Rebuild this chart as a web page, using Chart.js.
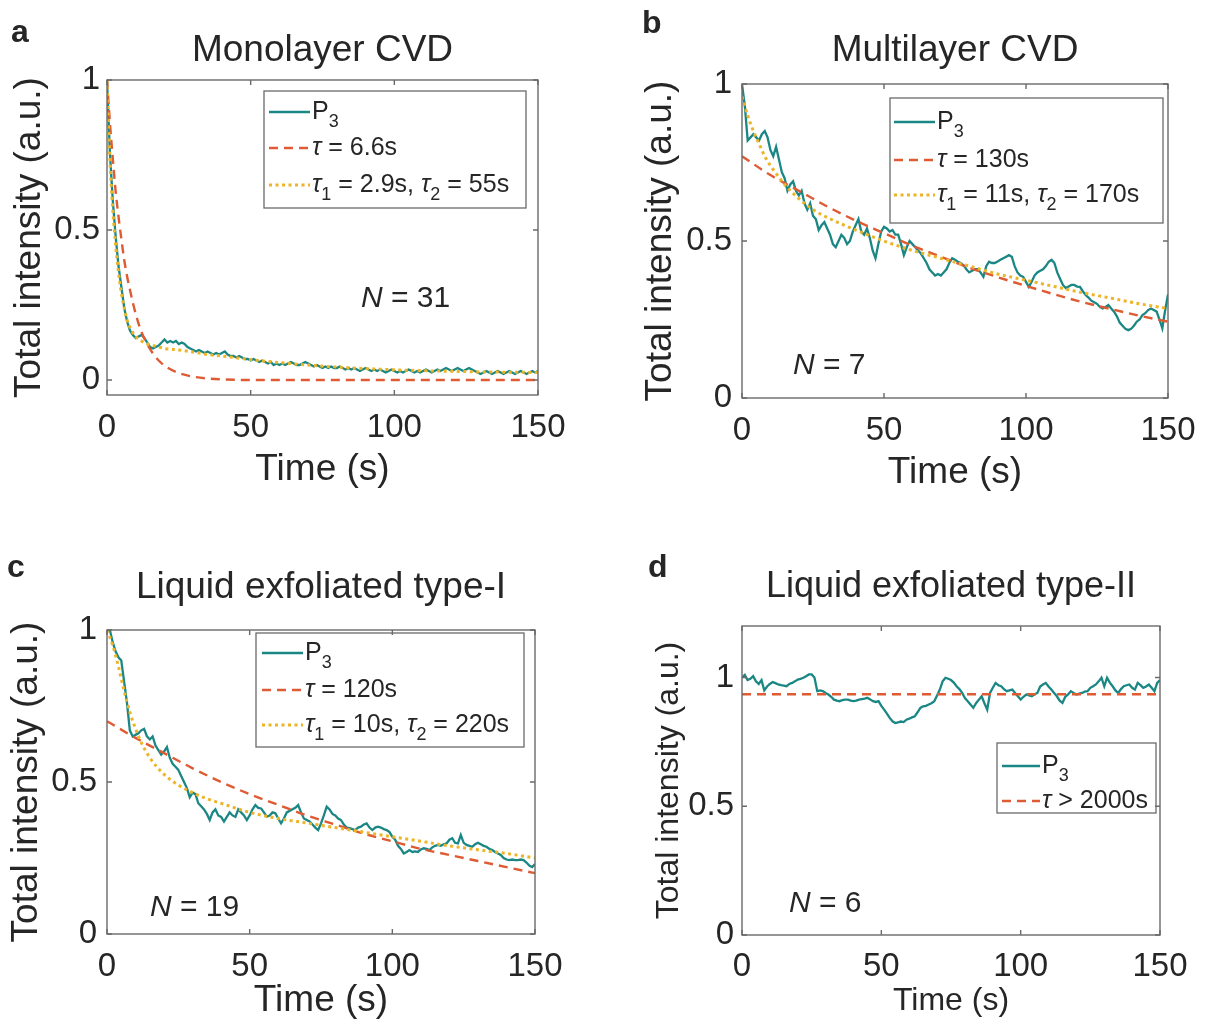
<!DOCTYPE html>
<html>
<head>
<meta charset="utf-8">
<title>Total intensity vs time</title>
<script src="https://cdn.jsdelivr.net/npm/chart.js@4.4.1/dist/chart.umd.min.js"></script>
<style>
  body { margin: 0; background: #fff; }
  #page { position: relative; width: 1209px; height: 1027px; overflow: hidden; background: #fff; }
  #page canvas { position: absolute; }
</style>
</head>
<body>
<div id="page">
  <canvas id="panel-a" width="603" height="512" style="left:0px;top:0px"></canvas>
  <canvas id="panel-b" width="606" height="512" style="left:603px;top:0px"></canvas>
  <canvas id="panel-c" width="603" height="515" style="left:0px;top:512px"></canvas>
  <canvas id="panel-d" width="606" height="515" style="left:603px;top:512px"></canvas>
</div>
<script>
// ---- data ----
const xTickValues = [0, 50, 100, 150];
const yTickValues = [0, 0.5, 1];

const traceTime = [
  0,1,2,3,4,5,6,7,8,9,10,11,12,13,14,15,16,17,18,19,20,21,22,23,24,25,26,27,28,29,
  30,31,32,33,34,35,36,37,38,39,40,41,42,43,44,45,46,47,48,49,50,51,52,53,54,55,56,57,58,59,
  60,61,62,63,64,65,66,67,68,69,70,71,72,73,74,75,76,77,78,79,80,81,82,83,84,85,86,87,88,89,
  90,91,92,93,94,95,96,97,98,99,100,101,102,103,104,105,106,107,108,109,110,111,112,113,114,115,116,117,118,119,
  120,121,122,123,124,125,126,127,128,129,130,131,132,133,134,135,136,137,138,139,140,141,142,143,144,145,146,147,148,149,150
];

// a - Monolayer CVD
const monoTrace = [
  1.00,0.76,0.60,0.48,0.38,0.31,0.24,0.195,0.165,0.15,
  0.14,0.145,0.15,0.14,0.125,0.11,0.105,0.11,0.115,0.125,
  0.135,0.125,0.13,0.125,0.13,0.12,0.125,0.12,0.11,0.105,
  0.10,0.095,0.10,0.095,0.09,0.095,0.09,0.085,0.09,0.085,
  0.09,0.095,0.085,0.08,0.08,0.075,0.08,0.075,0.07,0.07,
  0.065,0.07,0.065,0.06,0.065,0.06,0.055,0.06,0.05,0.055,
  0.05,0.055,0.05,0.055,0.06,0.055,0.05,0.05,0.055,0.06,
  0.055,0.05,0.045,0.05,0.045,0.04,0.045,0.04,0.045,0.04,
  0.04,0.045,0.04,0.035,0.04,0.035,0.04,0.035,0.03,0.035,
  0.04,0.035,0.03,0.035,0.03,0.035,0.03,0.025,0.03,0.035,
  0.03,0.025,0.03,0.025,0.03,0.035,0.03,0.025,0.03,0.025,
  0.03,0.035,0.03,0.025,0.03,0.035,0.03,0.035,0.04,0.035,
  0.03,0.035,0.04,0.035,0.03,0.035,0.04,0.035,0.03,0.025,
  0.02,0.025,0.03,0.025,0.02,0.025,0.03,0.025,0.02,0.025,
  0.03,0.025,0.02,0.025,0.03,0.025,0.02,0.025,0.03,0.025,
  0.03
];
const monoSingleTime = [0,1,2,3,4,5,6,7,8,10,12,14,16,18,20,25,30,35,40,50,150];
const monoSingleFit = [1.0,0.86,0.74,0.63,0.545,0.47,0.40,0.345,0.30,0.22,0.16,0.12,0.088,0.065,0.048,0.023,0.011,0.005,0.002,0,0];
const monoDoubleTime = [0,1,2,3,4,5,6,7,8,10,12,14,16,18,20,25,30,35,40,50,60,70,80,90,100,110,120,130,140,150];
const monoDoubleFit = [1.0,0.74,0.57,0.45,0.36,0.29,0.24,0.20,0.175,0.145,0.13,0.12,0.115,0.11,0.105,0.10,0.093,0.085,0.08,0.068,0.058,0.05,0.043,0.038,0.034,0.031,0.029,0.027,0.026,0.025];
const monoLegend = ['P_3', '\u03C4 = 6.6s', '\u03C4_1 = 2.9s, \u03C4_2 = 55s'];

// b - Multilayer CVD
const multiTrace = [
  1.00,0.93,0.82,0.83,0.84,0.83,0.82,0.84,0.85,0.83,
  0.79,0.77,0.80,0.76,0.72,0.70,0.66,0.68,0.69,0.66,
  0.645,0.66,0.62,0.60,0.62,0.58,0.57,0.535,0.55,0.56,
  0.54,0.52,0.49,0.48,0.50,0.52,0.51,0.49,0.50,0.53,
  0.55,0.57,0.53,0.52,0.54,0.51,0.47,0.445,0.49,0.53,
  0.545,0.54,0.53,0.535,0.52,0.52,0.49,0.455,0.48,0.50,
  0.49,0.48,0.47,0.46,0.445,0.43,0.41,0.40,0.39,0.395,
  0.39,0.40,0.41,0.43,0.445,0.44,0.434,0.43,0.423,0.41,
  0.40,0.405,0.41,0.41,0.40,0.386,0.42,0.434,0.43,0.43,
  0.435,0.44,0.445,0.45,0.455,0.45,0.42,0.40,0.39,0.386,
  0.37,0.354,0.37,0.39,0.40,0.405,0.41,0.42,0.434,0.44,
  0.43,0.40,0.38,0.36,0.35,0.355,0.36,0.36,0.355,0.354,
  0.34,0.328,0.32,0.31,0.305,0.30,0.29,0.285,0.29,0.296,
  0.285,0.275,0.26,0.24,0.23,0.22,0.216,0.22,0.23,0.243,
  0.25,0.264,0.27,0.28,0.285,0.28,0.275,0.25,0.222,0.28,
  0.33
];
const multiSingleTime = [0,10,20,30,40,50,60,70,80,90,100,110,120,130,140,150];
const multiSingleFit = [0.77,0.71,0.66,0.61,0.565,0.525,0.485,0.45,0.415,0.385,0.357,0.33,0.305,0.283,0.262,0.243];
const multiDoubleTime = [0,2,4,6,8,10,12,15,20,25,30,40,50,60,70,80,90,100,110,120,130,140,150];
const multiDoubleFit = [0.96,0.90,0.85,0.81,0.77,0.74,0.715,0.68,0.635,0.60,0.575,0.535,0.50,0.47,0.445,0.42,0.395,0.375,0.355,0.335,0.318,0.30,0.285];
const multiLegend = ['P_3', '\u03C4 = 130s', '\u03C4_1 = 11s, \u03C4_2 = 170s'];

// c - Liquid exfoliated type-I
const liquidITrace = [
  1.00,1.00,0.96,0.93,0.91,0.90,0.83,0.76,0.67,0.65,
  0.655,0.66,0.67,0.675,0.65,0.64,0.65,0.62,0.605,0.59,
  0.60,0.615,0.58,0.56,0.55,0.54,0.52,0.50,0.48,0.45,
  0.465,0.46,0.43,0.42,0.41,0.395,0.375,0.40,0.41,0.39,
  0.385,0.37,0.385,0.40,0.39,0.385,0.41,0.40,0.39,0.375,
  0.39,0.41,0.424,0.415,0.413,0.40,0.386,0.39,0.40,0.397,
  0.38,0.364,0.38,0.40,0.405,0.41,0.415,0.424,0.40,0.38,
  0.375,0.37,0.36,0.35,0.342,0.364,0.39,0.419,0.41,0.395,
  0.39,0.38,0.375,0.36,0.35,0.348,0.345,0.342,0.35,0.353,
  0.36,0.364,0.35,0.342,0.35,0.353,0.35,0.345,0.342,0.335,
  0.32,0.31,0.29,0.28,0.265,0.27,0.276,0.27,0.272,0.27,
  0.278,0.282,0.28,0.276,0.285,0.29,0.293,0.29,0.295,0.298,
  0.31,0.315,0.30,0.298,0.326,0.30,0.293,0.29,0.287,0.295,
  0.30,0.295,0.29,0.287,0.28,0.276,0.27,0.265,0.26,0.25,
  0.245,0.243,0.245,0.243,0.243,0.245,0.243,0.235,0.225,0.22,
  0.23
];
const liquidISingleTime = [0,10,20,30,40,50,60,70,80,90,100,110,120,130,140,150];
const liquidISingleFit = [0.70,0.645,0.595,0.545,0.50,0.46,0.425,0.39,0.36,0.33,0.305,0.28,0.26,0.24,0.22,0.20];
const liquidIDoubleTime = [0,2,4,6,8,10,12,15,20,25,30,35,40,50,60,70,80,90,100,110,120,130,140,150];
const liquidIDoubleFit = [1.0,0.95,0.88,0.80,0.73,0.675,0.63,0.58,0.525,0.49,0.465,0.445,0.43,0.40,0.38,0.365,0.35,0.335,0.32,0.305,0.29,0.277,0.265,0.25];
const liquidILegend = ['P_3', '\u03C4 = 120s', '\u03C4_1 = 10s, \u03C4_2 = 220s'];

// d - Liquid exfoliated type-II
const liquidIITrace = [
  1.00,1.01,0.99,0.995,1.005,0.985,0.975,0.99,0.95,0.965,
  0.975,0.982,0.978,0.973,0.97,0.968,0.966,0.975,0.979,0.985,
  0.992,0.995,0.999,1.005,1.012,1.012,1.0,0.947,0.95,0.947,
  0.94,0.934,0.925,0.914,0.91,0.908,0.912,0.914,0.914,0.91,
  0.908,0.91,0.914,0.916,0.918,0.921,0.915,0.908,0.905,0.908,
  0.89,0.875,0.86,0.843,0.83,0.823,0.826,0.829,0.827,0.836,
  0.84,0.845,0.849,0.865,0.882,0.888,0.89,0.895,0.90,0.908,
  0.93,0.953,0.985,0.999,0.995,0.99,0.98,0.966,0.955,0.94,
  0.92,0.908,0.895,0.882,0.90,0.914,0.927,0.90,0.875,0.94,
  0.96,0.979,0.97,0.966,0.955,0.947,0.95,0.953,0.94,0.927,
  0.914,0.925,0.934,0.93,0.927,0.935,0.94,0.965,0.973,0.979,
  0.965,0.953,0.94,0.927,0.91,0.901,0.925,0.934,0.947,0.94,
  0.934,0.937,0.94,0.945,0.947,0.96,0.966,0.973,0.985,0.999,
  0.966,0.999,0.98,0.966,0.95,0.94,0.955,0.966,0.97,0.973,
  0.96,0.953,0.979,0.97,0.96,0.965,0.973,0.96,0.947,0.979,
  0.99
];
const liquidIISingleTime = [0, 150];
const liquidIISingleFit = [0.935, 0.935];
const liquidIILegend = ['P_3', '\u03C4 > 2000s'];

// ---- styling ----
const family = '"Liberation Sans", Arial, Helvetica, sans-serif';
const ink = '#262626';
const frameInk = '#6a6a6a';
const lineStyles = [
  { color: '#1b8784', width: 2.3, dash: [] },
  { color: '#de5b33', width: 2.4, dash: [9, 6] },
  { color: '#ecb426', width: 3, dash: [3, 3.5] }
];

// page coordinates of each panel
const panels = [
  { id: 'panel-a', canvas: { x: 0, y: 0, w: 603, h: 512 }, box: { l: 107, r: 538, t: 80, b: 395 },
    yMin: -0.05, yMax: 1, title: 'Monolayer CVD', titleY: 61, titleSize: 37,
    letter: { text: 'a', x: 11, y: 42 }, note: { text: '31', x: 361, y: 307 },
    yTitleX: 30, xTitleY: 470, xTickY: 428, yTickPad: 7, axisSize: 37,
    legend: { l: 264, t: 91, r: 526, b: 208, rows: [112, 148, 185], x0: 269, x1: 310 },
    trace: monoTrace, fits: [[monoSingleTime, monoSingleFit], [monoDoubleTime, monoDoubleFit]], labels: monoLegend },
  { id: 'panel-b', canvas: { x: 603, y: 0, w: 606, h: 512 }, box: { l: 742, r: 1168, t: 84, b: 398 },
    yMin: 0, yMax: 1, title: 'Multilayer CVD', titleY: 61, titleSize: 37,
    letter: { text: 'b', x: 642, y: 33 }, note: { text: '7', x: 793, y: 374 },
    yTitleX: 661, xTitleY: 473, xTickY: 431, yTickPad: 10, axisSize: 37,
    legend: { l: 890, t: 98, r: 1163, b: 223, rows: [122, 160, 195], x0: 894, x1: 935 },
    trace: multiTrace, fits: [[multiSingleTime, multiSingleFit], [multiDoubleTime, multiDoubleFit]], labels: multiLegend },
  { id: 'panel-c', canvas: { x: 0, y: 512, w: 603, h: 515 }, box: { l: 107, r: 535, t: 630, b: 934 },
    yMin: 0, yMax: 1, title: 'Liquid exfoliated type-I', titleY: 598, titleSize: 37,
    letter: { text: 'c', x: 7, y: 577 }, note: { text: '19', x: 150, y: 916 },
    yTitleX: 27, xTitleY: 1001, xTickY: 967, yTickPad: 10, axisSize: 37,
    legend: { l: 256, t: 633, r: 524, b: 747, rows: [653, 690, 725], x0: 262, x1: 303 },
    trace: liquidITrace, fits: [[liquidISingleTime, liquidISingleFit], [liquidIDoubleTime, liquidIDoubleFit]], labels: liquidILegend },
  { id: 'panel-d', canvas: { x: 603, y: 512, w: 606, h: 515 }, box: { l: 742, r: 1160, t: 626, b: 935 },
    yMin: 0, yMax: 1.2, title: 'Liquid exfoliated type-II', titleY: 597, titleSize: 36,
    letter: { text: 'd', x: 648, y: 577 }, note: { text: '6', x: 789, y: 912 },
    yTitleX: 669, xTitleY: 1001, xTickY: 967, yTickPad: 8, axisSize: 32,
    legend: { l: 997, t: 743, r: 1156, b: 813, rows: [766, 801], x0: 1002, x1: 1040 },
    trace: liquidIITrace, fits: [[liquidIISingleTime, liquidIISingleFit]], labels: liquidIILegend }
];

// text with '_x' subscripts and italic tau
function richText(ctx, s, x, y, size) {
  const parts = [];
  for (let i = 0; i < s.length; i++) {
    let ch = s[i], kind = 'n';
    if (ch === '_') { kind = 's'; ch = s[++i]; }
    else if (ch === '\u03C4') kind = 'i';
    const last = parts[parts.length - 1];
    if (last && last.kind === kind) last.text += ch;
    else parts.push({ kind, text: ch });
  }
  ctx.textBaseline = 'middle';
  ctx.textAlign = 'left';
  ctx.fillStyle = ink;
  parts.forEach(pt => {
    const sz = pt.kind === 's' ? Math.round(size * 0.72) : size;
    ctx.font = (pt.kind === 'i' ? 'italic ' : '') + sz + 'px ' + family;
    ctx.fillText(pt.text, x, pt.kind === 's' ? y + size * 0.42 : y);
    x += ctx.measureText(pt.text).width;
  });
}

function makeDecor(p) {
  return {
    id: 'decor',
    afterDraw(chart) {
      const { ctx, chartArea: a, scales: { x, y } } = chart;
      const ox = p.canvas.x, oy = p.canvas.y;
      ctx.save();

      // legend box
      const L = p.legend;
      ctx.fillStyle = '#fff';
      ctx.fillRect(L.l - ox, L.t - oy, L.r - L.l, L.b - L.t);
      ctx.strokeStyle = frameInk;
      ctx.lineWidth = 1.3;
      ctx.strokeRect(L.l - ox, L.t - oy, L.r - L.l, L.b - L.t);
      p.labels.forEach((label, i) => {
        const st = lineStyles[i];
        ctx.strokeStyle = st.color;
        ctx.lineWidth = st.width;
        ctx.setLineDash(st.dash);
        ctx.beginPath();
        ctx.moveTo(L.x0 - ox, L.rows[i] - oy);
        ctx.lineTo(L.x1 - ox, L.rows[i] - oy);
        ctx.stroke();
        ctx.setLineDash([]);
        richText(ctx, label, L.x1 - ox + 2, L.rows[i] - oy, 25);
      });

      // axes box with inward ticks
      ctx.strokeStyle = frameInk;
      ctx.lineWidth = 1.4;
      ctx.strokeRect(a.left, a.top, a.right - a.left, a.bottom - a.top);
      ctx.beginPath();
      xTickValues.forEach(v => {
        const px = x.getPixelForValue(v);
        ctx.moveTo(px, a.bottom); ctx.lineTo(px, a.bottom - 5);
        ctx.moveTo(px, a.top); ctx.lineTo(px, a.top + 5);
      });
      yTickValues.forEach(v => {
        const py = y.getPixelForValue(v);
        ctx.moveTo(a.left, py); ctx.lineTo(a.left + 5, py);
        ctx.moveTo(a.right, py); ctx.lineTo(a.right - 5, py);
      });
      ctx.stroke();

      // title, panel letter, N
      ctx.fillStyle = ink;
      ctx.textBaseline = 'alphabetic';
      ctx.textAlign = 'center';
      ctx.font = p.titleSize + 'px ' + family;
      ctx.fillText(p.title, (a.left + a.right) / 2, p.titleY - oy);

      ctx.textAlign = 'left';
      ctx.font = 'bold 32px ' + family;
      ctx.fillText(p.letter.text, p.letter.x - ox, p.letter.y - oy);

      ctx.font = 'italic 30px ' + family;
      ctx.fillText('N', p.note.x - ox, p.note.y - oy);
      const nw = ctx.measureText('N').width;
      ctx.font = '30px ' + family;
      ctx.fillText(' = ' + p.note.text, p.note.x - ox + nw, p.note.y - oy);

      ctx.restore();
    }
  };
}

function build(p) {
  const c = p.canvas, b = p.box;
  const tickFont = { family, size: 33 };
  const axisFont = { family, size: p.axisSize };

  const datasets = [{
    label: 'P3',
    data: traceTime.map((t, i) => ({ x: t, y: p.trace[i] })),
    borderColor: lineStyles[0].color,
    borderWidth: lineStyles[0].width,
    order: 3
  }];
  p.fits.forEach(([times, values], k) => {
    const st = lineStyles[k + 1];
    datasets.push({
      label: p.labels[k + 1],
      data: times.map((t, i) => ({ x: t, y: values[i] })),
      borderColor: st.color,
      borderWidth: st.width,
      borderDash: st.dash,
      cubicInterpolationMode: 'monotone',
      order: 2 - k
    });
  });

  new Chart(document.getElementById(p.id), {
    type: 'line',
    data: { datasets },
    options: {
      responsive: false,
      animation: false,
      events: [],
      layout: { padding: { left: 0, top: b.t - c.y, right: c.x + c.w - b.r, bottom: 0 } },
      elements: { point: { radius: 0 }, line: { tension: 0 } },
      plugins: { legend: { display: false }, tooltip: { enabled: false } },
      scales: {
        x: {
          type: 'linear', min: 0, max: 150,
          grid: { display: false, drawTicks: false },
          border: { display: false },
          afterBuildTicks: s => { s.ticks = xTickValues.map(v => ({ value: v })); },
          ticks: {
            font: tickFont, color: ink, autoSkip: false, maxRotation: 0,
            padding: p.xTickY - b.b - tickFont.size * 0.6,
            callback: v => String(v)
          },
          title: {
            display: true, text: 'Time (s)', font: axisFont, color: ink,
            padding: { top: 0, bottom: c.y + c.h - p.xTitleY - axisFont.size * 0.6 }
          },
          afterFit: s => { s.height = c.y + c.h - b.b; }
        },
        y: {
          type: 'linear', min: p.yMin, max: p.yMax,
          grid: { display: false, drawTicks: false },
          border: { display: false },
          afterBuildTicks: s => { s.ticks = yTickValues.map(v => ({ value: v })); },
          ticks: { font: tickFont, color: ink, padding: p.yTickPad, callback: v => String(v) },
          title: {
            display: true, text: 'Total intensity (a.u.)', font: axisFont, color: ink,
            padding: { top: p.yTitleX - c.x - axisFont.size * 0.6, bottom: 0 }
          },
          afterFit: s => { s.width = b.l - c.x; }
        }
      }
    },
    plugins: [makeDecor(p)]
  });
}

panels.forEach(build);
</script>
</body>
</html>
